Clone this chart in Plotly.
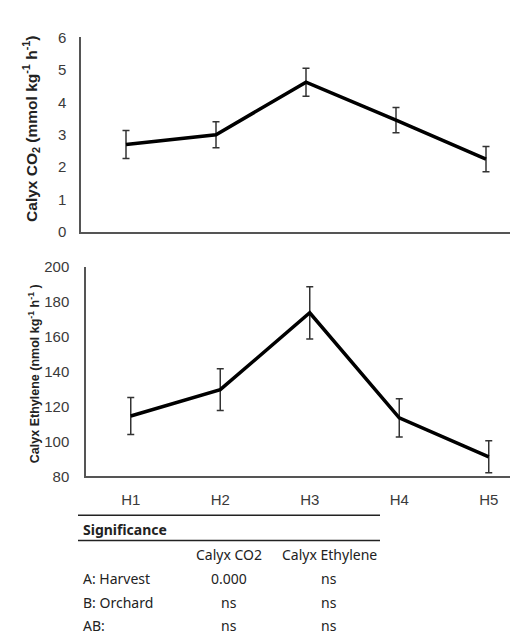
import plotly.graph_objects as go

harvests = ["H1", "H2", "H3", "H4", "H5"]
co2_mean = [2.7, 3.0, 4.62, 3.45, 2.25]
co2_err = [0.43, 0.4, 0.43, 0.39, 0.39]
eth_mean = [114.6, 129.7, 173.8, 113.5, 91.2]
eth_err = [10.6, 12.0, 15.0, 11.0, 9.2]
co2_ticks = [0, 1, 2, 3, 4, 5, 6]
eth_ticks = [80, 100, 120, 140, 160, 180, 200]

sig_header = ["Calyx CO2", "Calyx Ethylene"]
sig_rows = ["A: Harvest", "B: Orchard", "AB:"]
sig_co2 = ["0.000", "ns", "ns"]
sig_eth = ["ns", "ns", "ns"]

W, H = 518, 634
xs = list(range(len(harvests)))

def py(p):
    return (H - p) / H

def px(p):
    return p / W

fig = go.Figure()
fig.add_trace(go.Scatter(
    x=xs, y=co2_mean, mode="lines", line=dict(color="black", width=3.5),
    error_y=dict(type="data", array=co2_err, color="#333333", thickness=1.5, width=3.5),
    xaxis="x", yaxis="y", showlegend=False))
fig.add_trace(go.Scatter(
    x=xs, y=eth_mean, mode="lines", line=dict(color="black", width=3.5),
    error_y=dict(type="data", array=eth_err, color="#333333", thickness=1.5, width=3.5),
    xaxis="x2", yaxis="y2", showlegend=False))

tickfont = dict(family="Liberation Sans, Arial", size=15, color="#3a3a3a")
axisline = dict(showline=True, linecolor="#555555", linewidth=1.5, showgrid=False,
                zeroline=False, ticks="")

fig.update_layout(
    width=W, height=H, margin=dict(l=0, r=0, t=0, b=0),
    paper_bgcolor="white", plot_bgcolor="white",
    xaxis=dict(domain=[px(73), 1], range=[-0.5, -0.5 + (W - 73) / 90],
               showticklabels=False, anchor="y", **axisline),
    yaxis=dict(domain=[py(221), py(21)], range=[0, 6], tickvals=co2_ticks,
               tickfont=tickfont, anchor="x", ticklabelstandoff=10, **axisline),
    xaxis2=dict(domain=[px(78), 1], range=[-0.5, -0.5 + (W - 78) / 89.5],
                tickvals=xs, ticktext=harvests, tickfont=tickfont, anchor="y2",
                ticklabelstandoff=9, **axisline),
    yaxis2=dict(domain=[py(472), py(257)], range=[80, 200], tickvals=eth_ticks,
                tickfont=tickfont, anchor="x2", ticklabelstandoff=12, **axisline),
)

fig.add_annotation(x=px(23), y=py(115), xref="paper", yref="paper", textangle=-90,
                   text="<b>Calyx CO<sub>2</sub> (mmol kg<sup>-1</sup> h<sup>-1</sup>)</b>",
                   showarrow=False, font=dict(family="Liberation Sans, Arial", size=15.5, color="#222222"),
                   xanchor="center", yanchor="middle")
fig.add_annotation(x=px(26), y=py(367), xref="paper", yref="paper", textangle=-90,
                   text="<b>Calyx Ethylene (nmol kg<sup>-1</sup> h<sup>-1</sup> )</b>",
                   showarrow=False, font=dict(family="Liberation Sans, Arial", size=12.5, color="#222222"),
                   xanchor="center", yanchor="middle")

# significance table
tfont = dict(family="Noto Sans, Open Sans, sans-serif", size=14, color="#222222")
for yline in (512, 538):
    fig.add_shape(type="line", xref="paper", yref="paper",
                  x0=px(70), x1=px(372), y0=py(yline), y1=py(yline),
                  line=dict(color="#222222", width=1.5))
fig.add_annotation(x=px(73), y=py(527), xref="paper", yref="paper", text="<b>Significance</b>",
                   showarrow=False, font=tfont, xanchor="left", yanchor="middle")
fig.add_annotation(x=px(221), y=py(552), xref="paper", yref="paper", text=sig_header[0],
                   showarrow=False, font=tfont, xanchor="center", yanchor="middle")
fig.add_annotation(x=px(321), y=py(552), xref="paper", yref="paper", text=sig_header[1],
                   showarrow=False, font=tfont, xanchor="center", yanchor="middle")
row_y = [577, 602, 625]
for lab, a, b, yy in zip(sig_rows, sig_co2, sig_eth, row_y):
    fig.add_annotation(x=px(73), y=py(yy), xref="paper", yref="paper", text=lab,
                       showarrow=False, font=tfont, xanchor="left", yanchor="middle")
    fig.add_annotation(x=px(221), y=py(yy), xref="paper", yref="paper", text=a,
                       showarrow=False, font=tfont, xanchor="center", yanchor="middle")
    fig.add_annotation(x=px(321), y=py(yy), xref="paper", yref="paper", text=b,
                       showarrow=False, font=tfont, xanchor="center", yanchor="middle")

fig.write_html("out.html")
